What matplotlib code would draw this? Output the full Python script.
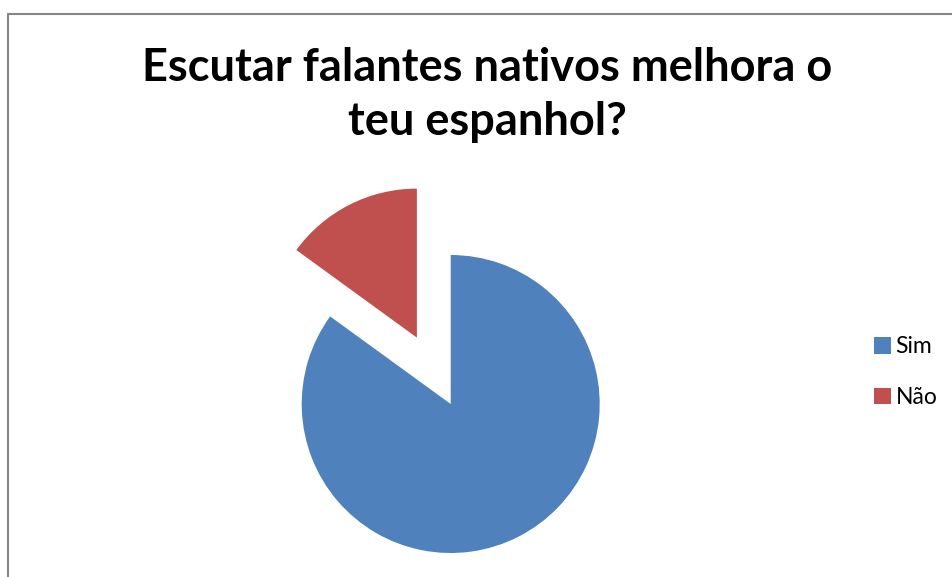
import matplotlib
matplotlib.use("Agg")
import matplotlib.pyplot as plt
from matplotlib.patches import Rectangle

labels = ["Sim", "Não"]
values = [85, 15]
colors = ["#4F81BD", "#C0504D"]
explode = [0, 0.5]

W, H = 952, 577
fig = plt.figure(figsize=(W / 100, H / 100), dpi=100)

# chart-area border
fig.patches.append(Rectangle((8 / W, -0.1), 1.2, (H - 14) / H + 0.1,
                             transform=fig.transFigure, fill=False,
                             edgecolor="#868686", linewidth=1.5))

# pie axes, pixel-scaled so one unit of radius = 149 px
cx, cy, r = 450.7, 404, 149
x0, x1, y0, y1 = 250, 650, 150, 570
ax = fig.add_axes([x0 / W, (H - y1) / H, (x1 - x0) / W, (y1 - y0) / H])
wedges, _ = ax.pie(values, colors=colors, explode=explode, startangle=90,
                   counterclock=False, radius=1)
ax.set_xlim((x0 - cx) / r, (x1 - cx) / r)
ax.set_ylim((cy - y1) / r, (cy - y0) / r)
ax.set_aspect("auto")
ax.axis("off")

fig.text(487 / W, 1 - 95 / H, "Escutar falantes nativos melhora o\nteu espanhol?",
         ha="center", va="center", fontsize=32.5, fontweight="bold",
         family=["Lato", "DejaVu Sans"], linespacing=1.37)

fig.legend(wedges, labels, loc="center left",
           bbox_to_anchor=(853 / W, 1 - 372 / H), frameon=False,
           handlelength=0.75, handleheight=0.75,
           handletextpad=0.2, labelspacing=1.3,
           prop={"family": ["Lato", "DejaVu Sans"], "size": 16.5})

fig.savefig("out.png", dpi=100)
